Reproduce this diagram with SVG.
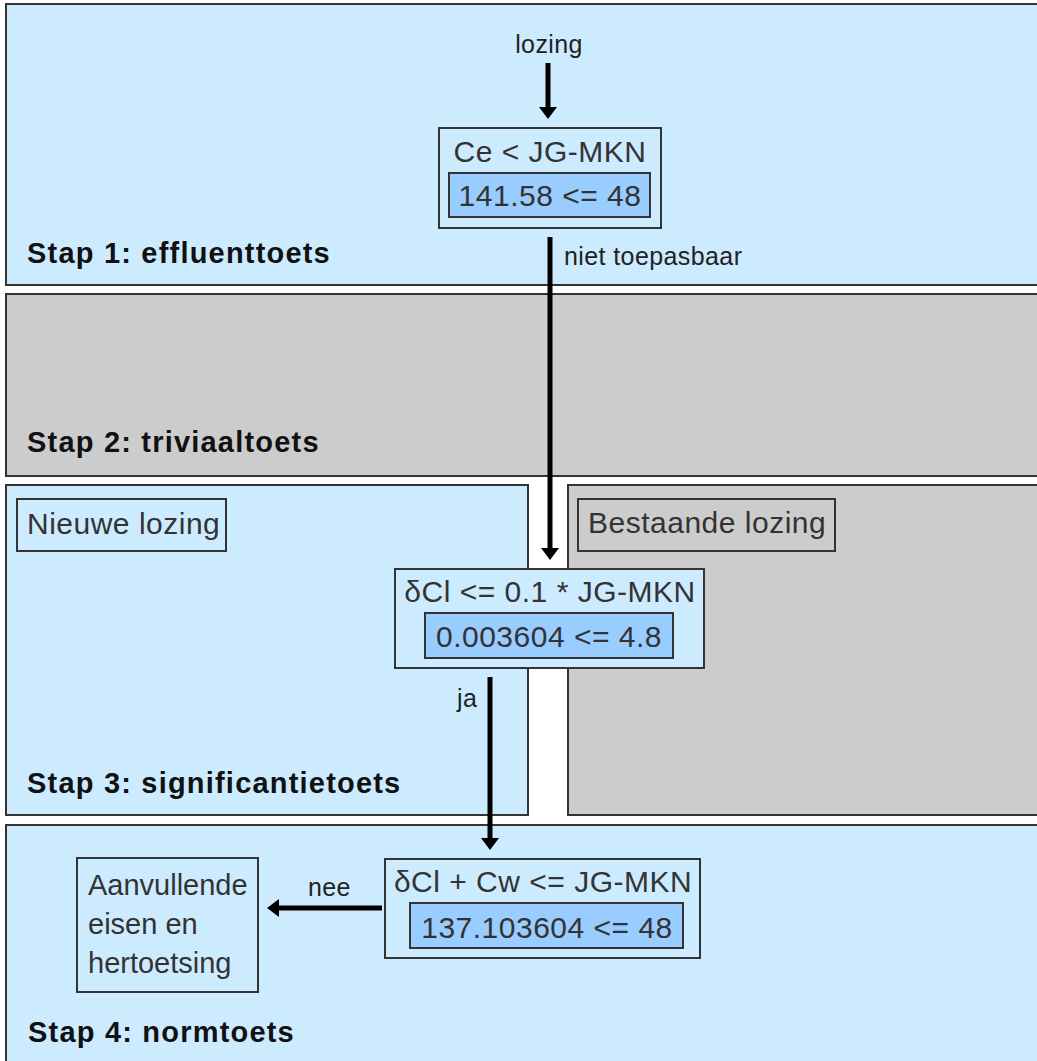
<svg xmlns="http://www.w3.org/2000/svg" width="1037" height="1061" viewBox="0 0 1037 1061">
  <style>
    .panel-blue { fill: #cdebff; stroke: #333333; stroke-width: 2; }
    .panel-gray { fill: #cccccc; stroke: #333333; stroke-width: 2; }
    .box { fill: #cdebff; stroke: #333333; stroke-width: 2; }
    .box-gray { fill: #cccccc; stroke: #333333; stroke-width: 2; }
    .inner { fill: #99ccff; stroke: #333333; stroke-width: 2; }
    .title { font-family: "Liberation Sans", Arial, sans-serif; font-weight: bold; font-size: 29px; letter-spacing: 1.2px; fill: #111111; }
    .txt { font-family: "Liberation Sans", Arial, sans-serif; font-size: 30px; letter-spacing: 0.5px; fill: #333333; }
    .tight { font-size: 29px; letter-spacing: 0px; }
    .mid { text-anchor: middle; }
    .lbl { font-family: "Liberation Sans", Arial, sans-serif; font-size: 25px; letter-spacing: 0.4px; fill: #222222; }
    .conn { stroke: #000000; stroke-width: 5; fill: none; }
  </style>
  <defs>
    <marker id="ah" viewBox="0 0 12 18" markerWidth="12" markerHeight="18" refX="1" refY="9" orient="auto" markerUnits="userSpaceOnUse">
      <path d="M0,0 L12,9 L0,18 Z" fill="#000000"/>
    </marker>
  </defs>
  <rect width="1037" height="1061" fill="#ffffff"/>

  <g id="stap1">
    <rect class="panel-blue" x="6" y="4" width="1100" height="281"/>
    <text class="title" x="27" y="263">Stap 1: effluenttoets</text>
  </g>
  <g id="stap2">
    <rect class="panel-gray" x="6" y="294" width="1100" height="182"/>
    <text class="title" x="27" y="452">Stap 2: triviaaltoets</text>
  </g>
  <g id="stap3-nieuw">
    <rect class="panel-blue" x="6" y="485" width="522" height="330"/>
    <text class="title" x="27" y="793">Stap 3: significantietoets</text>
  </g>
  <g id="stap3-bestaand">
    <rect class="panel-gray" x="568" y="485" width="540" height="330"/>
  </g>
  <g id="stap4">
    <rect class="panel-blue" x="6" y="825" width="1100" height="300"/>
    <text class="title" x="28" y="1042">Stap 4: normtoets</text>
  </g>

  <g id="nieuwe-lozing">
    <rect class="box" x="17" y="499" width="209" height="52"/>
    <text class="txt" x="27" y="534">Nieuwe lozing</text>
  </g>
  <g id="bestaande-lozing">
    <rect class="box-gray" x="578" y="499" width="257" height="52"/>
    <text class="txt" x="588" y="533">Bestaande lozing</text>
  </g>

  <g id="toets-effluent">
    <rect class="box" x="439" y="128" width="222" height="100"/>
    <rect class="inner" x="449" y="173" width="201" height="44"/>
    <text class="txt mid" x="550" y="162">Ce &lt; JG-MKN</text>
    <text class="txt mid" x="550" y="206">141.58 &lt;= 48</text>
  </g>
  <g id="toets-significantie">
    <rect class="box" x="395" y="569" width="309" height="99"/>
    <rect class="inner" x="425" y="613" width="248" height="45"/>
    <text class="txt mid" x="550" y="602">δCl &lt;= 0.1 * JG-MKN</text>
    <text class="txt mid" x="549" y="647">0.003604 &lt;= 4.8</text>
  </g>
  <g id="toets-norm">
    <rect class="box" x="385" y="859" width="315" height="99"/>
    <rect class="inner" x="410" y="903" width="273" height="45"/>
    <text class="txt mid" x="543" y="892">δCl + Cw &lt;= JG-MKN</text>
    <text class="txt mid" x="547" y="938">137.103604 &lt;= 48</text>
  </g>
  <g id="aanvullende-eisen">
    <rect class="box" x="77" y="858" width="181" height="134"/>
    <text class="txt tight" x="88" y="895">Aanvullende</text>
    <text class="txt tight" x="88" y="934">eisen en</text>
    <text class="txt tight" x="88" y="973">hertoetsing</text>
  </g>

  <g id="connectors">
    <line class="conn" x1="548" y1="63" x2="548" y2="108" marker-end="url(#ah)"/>
    <text class="lbl mid" x="549" y="53">lozing</text>
    <line class="conn" x1="550" y1="237" x2="550" y2="549" marker-end="url(#ah)"/>
    <text class="lbl" x="564" y="265">niet toepasbaar</text>
    <line class="conn" x1="490" y1="677" x2="490" y2="839" marker-end="url(#ah)"/>
    <text class="lbl" x="457" y="707">ja</text>
    <line class="conn" x1="382" y1="908" x2="278" y2="908" marker-end="url(#ah)"/>
    <text class="lbl" x="308" y="896">nee</text>
  </g>
</svg>
